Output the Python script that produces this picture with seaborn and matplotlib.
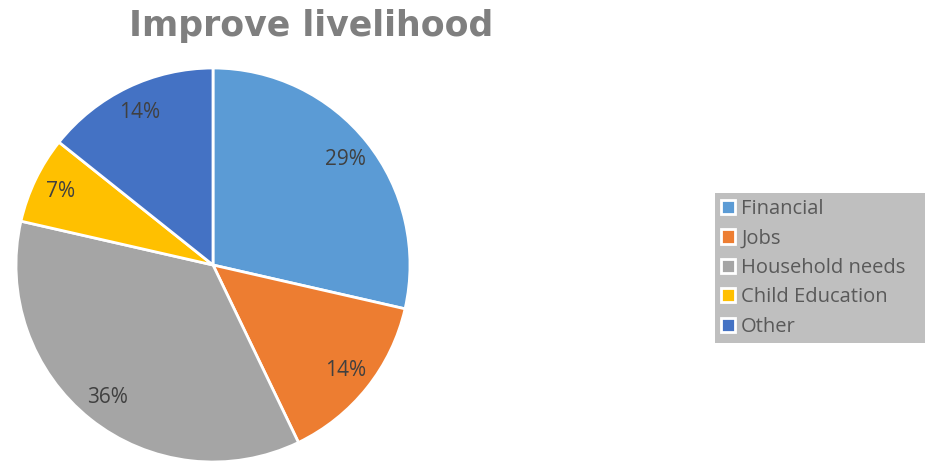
import matplotlib.pyplot as plt
import seaborn as sns

categories = ["Financial", "Jobs", "Household needs", "Child Education", "Other"]
counts = [8, 4, 10, 2, 4]
colors = ["#5B9BD5", "#ED7D31", "#A5A5A5", "#FFC000", "#4472C4"]

sns.set_theme(style="white")
plt.rcParams["font.family"] = ["Open Sans", "DejaVu Sans"]

W, H = 925, 463
fig = plt.figure(figsize=(W / 100, H / 100), dpi=100)

# pie centre ~ (213, 265) px, radius ~197 px
cx, cy, r, lim = 213, 265, 197, 1.05
half = r * lim
ax = fig.add_axes([(cx - half) / W, (H - cy - half) / H, 2 * half / W, 2 * half / H])

wedges, texts, autotexts = ax.pie(
    counts, colors=colors, startangle=90, counterclock=False,
    autopct="%1.0f%%", pctdistance=0.86,
    wedgeprops=dict(edgecolor="white", linewidth=2),
    textprops=dict(color="#404040", fontsize=15),
)
ax.set_xlim(-lim, lim)
ax.set_ylim(-lim, lim)
ax.set_aspect("equal")
ax.axis("off")

fig.text(311 / W, 1 - 36 / H, "Improve livelihood", ha="center", va="baseline",
         fontsize=25, fontweight="bold", color="#7F7F7F",
         family=["DejaVu Sans"])

leg = fig.legend(
    wedges, categories, loc="upper left",
    bbox_to_anchor=(715 / W, 1 - 193 / H, (W - 715) / W + 0.02, 0), mode="expand",
    frameon=True, facecolor="#BFBFBF", edgecolor="none", fancybox=False,
    framealpha=1, fontsize=14.5, handlelength=0.7, handleheight=0.7,
    handletextpad=0.3, labelspacing=0.47, borderpad=0.3, borderaxespad=0,
)
for t in leg.get_texts():
    t.set_color("#595959")

fig.savefig("out.png", dpi=100)
